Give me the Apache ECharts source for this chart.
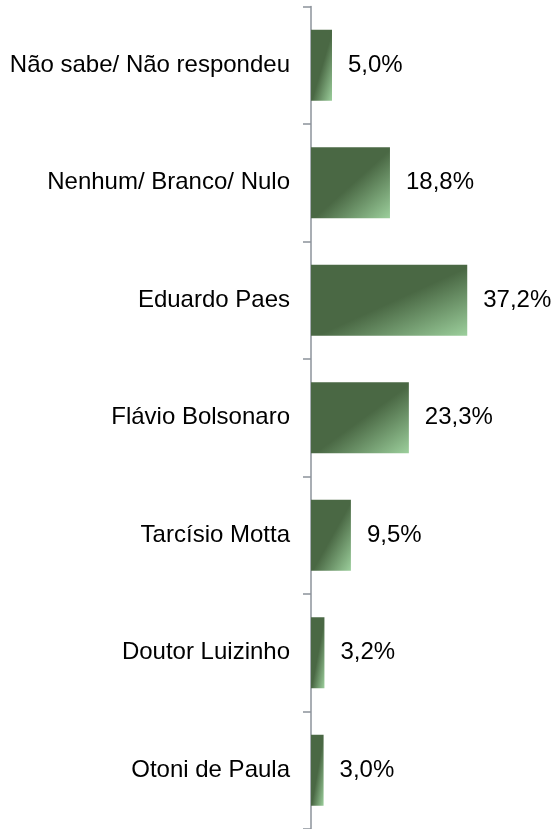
<!DOCTYPE html>
<html>
<head>
<meta charset="utf-8">
<script src="https://cdn.jsdelivr.net/npm/echarts@6/dist/echarts.min.js"></script>
<style>
html, body { margin: 0; padding: 0; background: #fff; }
#chart { width: 553px; height: 829px; }
</style>
</head>
<body>
<div id="chart"></div>
<script>
var categories = ['Não sabe/ Não respondeu', 'Nenhum/ Branco/ Nulo', 'Eduardo Paes',
    'Flávio Bolsonaro', 'Tarcísio Motta', 'Doutor Luizinho', 'Otoni de Paula'];
var values = [5.0, 18.8, 37.2, 23.3, 9.5, 3.2, 3.0];

var gridLeft = 311, gridWidth = 210, xMax = 50, barH = 71;
var font = '"Liberation Sans", Arial, sans-serif';

// diagonal sheen like the office chart: dark up to the anti-diagonal, light toward bottom-right corner
function sheen(v) {
    var r = (v / xMax * gridWidth) / barH;
    return new echarts.graphic.LinearGradient(0, 0, 2 / (1 + r * r), 2 * r * r / (1 + r * r), [
        { offset: 0, color: '#4a6844' },
        { offset: 0.52, color: '#4a6844' },
        { offset: 1, color: '#9ccf9c' }
    ]);
}

var myChart = echarts.init(document.getElementById('chart'));
myChart.setOption({
    animation: false,
    grid: { left: gridLeft, width: gridWidth, top: 6.5, bottom: -3.5 },
    xAxis: { type: 'value', min: 0, max: xMax, show: false },
    yAxis: {
        type: 'category',
        data: categories,
        inverse: true,
        axisLine: { show: true, lineStyle: { color: '#8c939b', width: 1.5 } },
        axisTick: { show: true, interval: 0, length: 8, lineStyle: { color: '#8c939b', width: 1.5 } },
        axisLabel: {
            margin: 21,
            color: '#000',
            fontFamily: font,
            fontSize: 24
        }
    },
    series: [{
        type: 'bar',
        barWidth: barH,
        data: values.map(function (v) {
            return { value: v, itemStyle: { color: sheen(v) } };
        }),
        label: {
            show: true,
            position: 'right',
            distance: 16,
            color: '#000',
            fontFamily: font,
            fontSize: 24,
            formatter: function (p) {
                return p.value.toFixed(1).replace('.', ',') + '%';
            }
        }
    }]
});
</script>
</body>
</html>
